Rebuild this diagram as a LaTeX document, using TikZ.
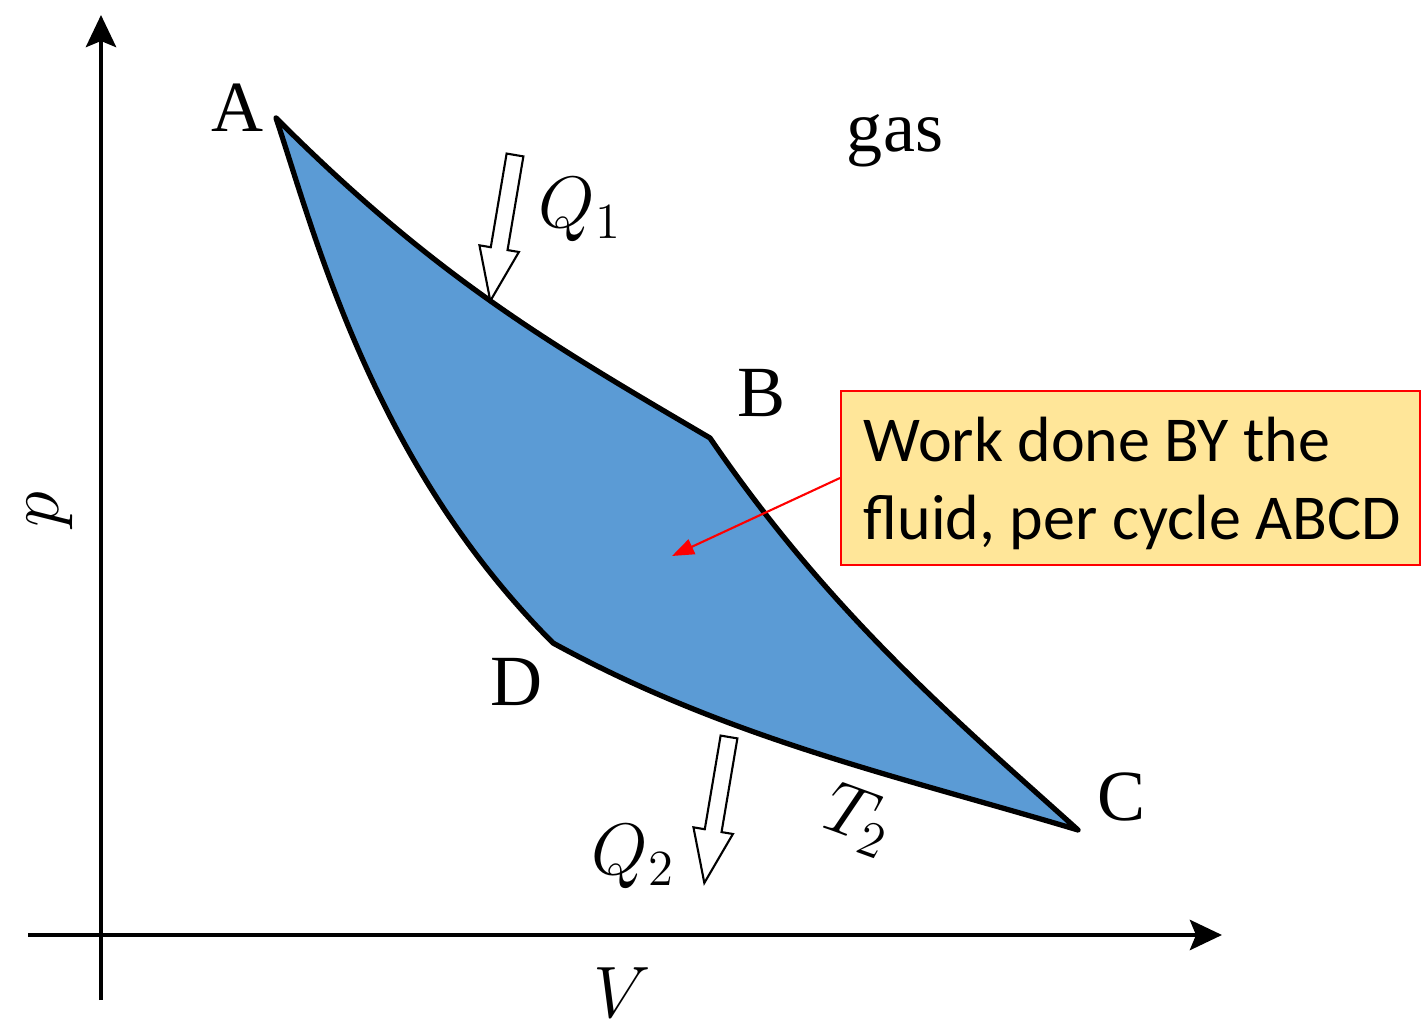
\documentclass[tikz,border=0pt]{standalone}
\usepackage{fontspec}
\setmainfont{Liberation Serif}
\newfontfamily\calloutfont{Carlito}
\usetikzlibrary{arrows.meta}
\definecolor{cyclefill}{RGB}{91,155,213}
\definecolor{notefill}{RGB}{255,230,153}
\begin{document}
\begin{tikzpicture}[>={Stealth[length=3.2mm,width=3mm,inset=0.6mm]}, every node/.style={font=\fontsize{20.5}{24}\selectfont}, heat/.style={line width=0.6pt, fill=white}, notetext/.style={anchor=base west, inner sep=0pt, font=\calloutfont\fontsize{18.2}{21.9}\selectfont}]
	\useasboundingbox (0,0) rectangle (14.21,10.31);
	% Points of the cycle
	\path
	(2.76,9.13) coordinate (A)
	(7.10,5.93) coordinate (B)
	(10.78,2.01) coordinate (C)
	(5.53,3.88) coordinate (D)
	(6.72,4.75) coordinate (W)
	;
	% Axes
	\draw[line width=1.4pt, ->] (1.01,0.31) -- (1.01,10.16);
	\draw[line width=1.4pt, ->] (0.28,0.96) -- (12.22,0.96);
	% The cycle ABCD
	\draw[fill=cyclefill, line width=1.5pt, line join=round] (A) .. controls (4.36,7.53) and (5.50,6.87) .. (B) .. controls (8.30,4.17) and (9.58,3.09) .. (C) .. controls (9.03,2.535) and (7.28,2.92) .. (D) .. controls (3.73,5.68) and (3.16,7.93) .. (A) -- cycle;
	% Heat arrows Q1, Q2
	\foreach \x/\y in {5.15/8.76, 7.29/2.94} {
	\begin{scope}[shift={(\x,\y)}, rotate=-99.6]
	\draw[heat] (0,0.085) -- (0.95,0.085) -- (0.95,0.2) -- (1.48,0) -- (0.95,-0.2) -- (0.95,-0.085) -- (0,-0.085) -- cycle;
	\end{scope}
	}
	% Labels
	\node (lblA) at (2.38,9.23) {A};
	\node (lblB) at (7.62,6.38) {B};
	\node (lblC) at (11.22,2.34) {C};
	\node (lblD) at (5.17,3.49) {D};
	\node[anchor=base] (lblgas) at (8.95,8.79) {gas};
	\node (lblQ1) at (5.80,8.21) {$Q_1$};
	\node (lblQ2) at (6.33,1.74) {$Q_2$};
	\node[rotate=-20] (lblT2) at (8.58,2.11) {$T_2$};
	\node[rotate=90] (lblp) at (0.50,5.21) {$p$};
	\node (lblV) at (6.22,0.38) {$V$};
	% Callout
	\node[anchor=west, draw=red, fill=notefill, line width=0.6pt, minimum width=5.79cm, minimum height=1.74cm] (note) at (8.40,5.53) {};
	\node[notetext] (note1) at (8.63,5.69) {Work done BY the};
	\node[notetext] (note2) at (8.63,4.91) {fluid, per cycle ABCD};
	\draw[red, line width=0.6pt, -{Triangle[length=2.2mm,width=1.6mm]}] (note.west) -- (W);
\end{tikzpicture}
\end{document}
